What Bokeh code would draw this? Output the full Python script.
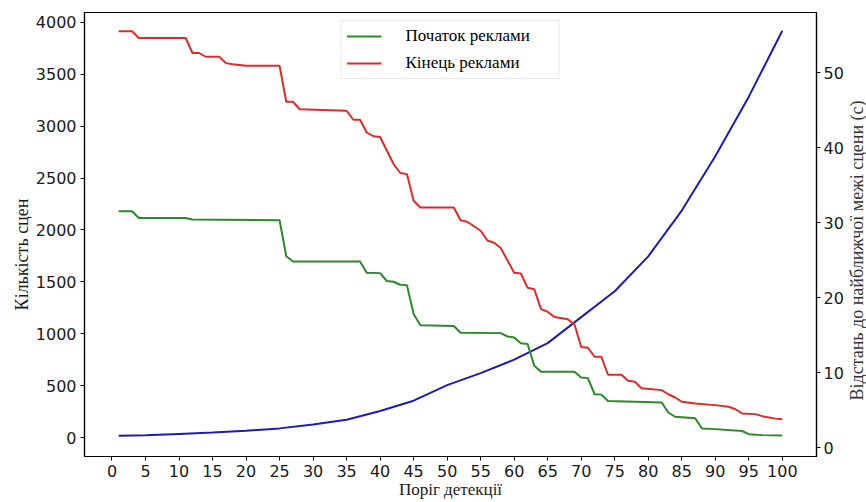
import math
from bokeh.plotting import figure
from bokeh.layouts import row
from bokeh.models import Range1d, LinearAxis, FixedTicker, Legend, LegendItem
from bokeh.core.properties import value
from bokeh.embed import file_html
from bokeh.resources import INLINE

# ---- data ----
scene_thr = [1, 5, 10, 15, 20, 25, 30, 35, 40, 45, 50, 55, 60, 65, 70, 75, 80, 85, 90, 95, 100]
scene_counts = [16, 22, 35, 48, 65, 88, 125, 172, 255, 355, 505, 620, 750, 910, 1160, 1410,
                1746, 2187, 2710, 3285, 3920]

start_thr = [1, 3, 4, 11, 12, 25, 26, 27, 37, 38, 40, 41, 42, 43, 44, 45, 46, 51, 52, 58,
             59, 60, 61, 62, 63, 64, 69, 70, 71, 72, 73, 74, 82, 83, 84, 87, 88, 90, 94, 95,
             97, 100]
start_dist = [31.5, 31.5, 30.6, 30.6, 30.4, 30.3, 25.5, 24.8, 24.8, 23.3, 23.25, 22.2, 22.1,
              21.7, 21.65, 17.8, 16.3, 16.2, 15.3, 15.25, 14.8, 14.67, 13.9, 13.8, 10.9, 10.1,
              10.1, 9.33, 9.25, 7.1, 7.05, 6.2, 6.0, 4.67, 4.1, 3.9, 2.53, 2.45, 2.2, 1.78,
              1.65, 1.6]

end_thr = [1, 3, 4, 11, 12, 13, 14, 16, 17, 18, 20, 25, 26, 27, 28, 35, 36, 37, 38, 39,
           40, 42, 43, 44, 45, 46, 51, 52, 53, 55, 56, 57, 58, 60, 61, 62, 63, 64, 65, 66,
           68, 69, 70, 71, 72, 73, 74, 76, 77, 78, 79, 82, 83, 84, 85, 87, 90, 92, 93, 94,
           96, 97, 99, 100]
end_dist = [55.5, 55.5, 54.6, 54.6, 52.6, 52.6, 52.1, 52.1, 51.25, 51.1, 50.9, 50.9, 46.1,
            46.1, 45.1, 44.9, 43.7, 43.7, 42.0, 41.5, 41.4, 37.8, 36.6, 36.45, 32.9, 32.0,
            32.0, 30.3, 30.1, 28.9, 27.6, 27.3, 26.6, 23.3, 23.2, 21.3, 21.1, 18.45, 18.1,
            17.4, 17.1, 16.4, 13.4, 13.3, 12.1, 12.1, 9.7, 9.7, 8.9, 8.76, 7.9, 7.65, 7.1,
            6.67, 6.1, 5.87, 5.65, 5.43, 5.1, 4.53, 4.45, 4.18, 3.85, 3.78]

x_ticks = list(range(0, 101, 5))
left_ticks = list(range(0, 4001, 500))
right_ticks = [0, 10, 20, 30, 40, 50]

legend_labels = ["Початок реклами", "Кінець реклами"]
x_label = "Поріг детекції"
left_label = "Кількість сцен"
right_label = "Відстань до найближчої межі сцени (с)"

GREEN = "#2a8a2a"
RED = "#e02a2a"
BLUE = "#1c1cb4"
LABEL_FONT = "Liberation Serif"
H = 502
TOP_BORDER = 12
BOTTOM_BORDER = 46
LEFT_STRIP = 32
RIGHT_STRIP = 20
MAIN_W = 866 - LEFT_STRIP - RIGHT_STRIP

p = figure(width=MAIN_W, height=H, output_backend="svg", toolbar_location=None,
           x_range=Range1d(-4.1, 105.1), y_range=Range1d(-183, 4096),
           min_border_left=51, min_border_right=28, min_border_top=TOP_BORDER,
           min_border_bottom=BOTTOM_BORDER)
p.extra_y_ranges = {"right": Range1d(-1.2, 58.0)}

p.grid.visible = False
p.outline_line_color = "black"
p.outline_line_width = 1.2
p.background_fill_color = "white"
p.border_fill_color = "white"


def style_axis(ax):
    ax.major_label_text_font = "DejaVu Sans"
    ax.major_label_text_font_size = "16px"
    ax.major_label_text_color = "#1a1a1a"
    ax.axis_line_color = "black"
    ax.axis_line_width = 1.2
    ax.major_tick_line_color = "black"
    ax.major_tick_in = 0
    ax.major_tick_out = 4
    ax.minor_tick_line_color = None
    ax.major_label_standoff = 4
    ax.axis_label_text_font = LABEL_FONT
    ax.axis_label_text_font_style = "normal"
    ax.axis_label_text_color = "#1a1a1a"
    ax.axis_label_standoff = 0


style_axis(p.xaxis[0])
style_axis(p.yaxis[0])
p.xaxis.ticker = FixedTicker(ticks=x_ticks)
p.yaxis.ticker = FixedTicker(ticks=left_ticks)
p.xaxis.axis_label = x_label
p.xaxis.axis_label_text_font_size = "17px"

right_axis = LinearAxis(y_range_name="right", ticker=FixedTicker(ticks=right_ticks))
style_axis(right_axis)
right_axis.major_label_standoff = 3
p.add_layout(right_axis, "right")

r_blue = p.line(scene_thr, scene_counts, line_color=BLUE, line_width=2)
r_green = p.line(start_thr, start_dist, line_color=GREEN, line_width=2, y_range_name="right")
r_red = p.line(end_thr, end_dist, line_color=RED, line_width=2, y_range_name="right")

legend = Legend(items=[LegendItem(label=legend_labels[0], renderers=[r_green]),
                       LegendItem(label=legend_labels[1], renderers=[r_red])],
                location="top_center", margin=8, padding=5, spacing=7,
                glyph_width=35, glyph_height=20, label_height=20, label_width=148,
                label_standoff=24,
                label_text_font=LABEL_FONT, label_text_font_size="17px",
                label_text_color="black",
                border_line_color="#cfcfcf", border_line_width=1,
                background_fill_color="white", background_fill_alpha=0.9)
p.add_layout(legend)


def label_strip(width, text, x_frac, y_from_top, color):
    # strip frames get aligned with the main frame, so map y in page pixels from the bottom
    s = figure(width=width, height=H, output_backend="svg", toolbar_location=None,
               x_range=Range1d(0, 1), y_range=Range1d(BOTTOM_BORDER, H - TOP_BORDER),
               x_axis_type=None, y_axis_type=None,
               min_border_left=0, min_border_right=0, min_border_top=TOP_BORDER,
               min_border_bottom=BOTTOM_BORDER)
    s.grid.visible = False
    s.outline_line_color = None
    s.background_fill_color = "white"
    s.border_fill_color = "white"
    s.text(x=[x_frac], y=[H - y_from_top], text=[text], angle=math.pi / 2,
           text_align="center", text_baseline="middle",
           text_font=value(LABEL_FONT), text_font_size="18px", text_color=color)
    return s


left_strip = label_strip(LEFT_STRIP, left_label, 21 / LEFT_STRIP, 254, "#1a1a1a")
right_strip = label_strip(RIGHT_STRIP, right_label, 0.5, 250, "#333333")

layout = row(left_strip, p, right_strip, spacing=0)

open("out.html", "w").write(file_html(layout, INLINE))
